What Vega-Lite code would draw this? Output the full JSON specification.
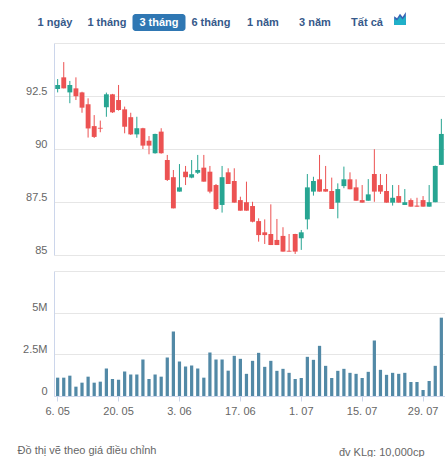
{
  "$schema": "https://vega.github.io/schema/vega-lite/v6.json",
  "background": "white",
  "padding": {"left": 17, "top": 12, "right": 0, "bottom": 0},
  "title": {
    "text": "Đồ thị vẽ theo giá điều chỉnh",
    "orient": "bottom",
    "anchor": "start",
    "fontSize": 11,
    "fontWeight": "normal",
    "color": "#666666",
    "offset": -12,
    "dx": -5
  },
  "datasets": {
    "buttons": [
      {"label": "1 ngày"},
      {"label": "1 tháng"},
      {"label": "3 tháng"},
      {"label": "6 tháng"},
      {"label": "1 năm"},
      {"label": "3 năm"},
      {"label": "Tất cả"}
    ],
    "prices": [
      {"date": "2024-05-06", "open": 92.83, "high": 93.30, "low": 92.67, "close": 93.02, "volume": 1100000},
      {"date": "2024-05-07", "open": 93.38, "high": 94.10, "low": 92.86, "close": 92.86, "volume": 1100000},
      {"date": "2024-05-08", "open": 92.67, "high": 93.21, "low": 92.16, "close": 93.02, "volume": 1220000},
      {"date": "2024-05-09", "open": 92.86, "high": 93.38, "low": 92.31, "close": 92.49, "volume": 560000},
      {"date": "2024-05-10", "open": 92.67, "high": 92.70, "low": 91.71, "close": 91.95, "volume": 800000},
      {"date": "2024-05-13", "open": 92.11, "high": 92.39, "low": 90.54, "close": 90.97, "volume": 1160000},
      {"date": "2024-05-14", "open": 91.08, "high": 91.60, "low": 90.52, "close": 90.57, "volume": 800000},
      {"date": "2024-05-15", "open": 91.00, "high": 91.34, "low": 90.79, "close": 90.96, "volume": 860000},
      {"date": "2024-05-16", "open": 91.97, "high": 92.66, "low": 91.52, "close": 92.58, "volume": 1650000},
      {"date": "2024-05-17", "open": 92.58, "high": 92.60, "low": 91.70, "close": 91.73, "volume": 1020000},
      {"date": "2024-05-20", "open": 92.31, "high": 93.02, "low": 91.81, "close": 91.84, "volume": 980000},
      {"date": "2024-05-21", "open": 91.87, "high": 92.00, "low": 90.74, "close": 91.05, "volume": 1470000},
      {"date": "2024-05-22", "open": 91.50, "high": 91.71, "low": 90.66, "close": 90.69, "volume": 1290000},
      {"date": "2024-05-23", "open": 90.69, "high": 91.52, "low": 90.53, "close": 90.98, "volume": 1290000},
      {"date": "2024-05-24", "open": 90.98, "high": 91.00, "low": 90.00, "close": 90.16, "volume": 2190000},
      {"date": "2024-05-27", "open": 90.39, "high": 90.61, "low": 89.75, "close": 90.16, "volume": 1020000},
      {"date": "2024-05-28", "open": 89.80, "high": 90.72, "low": 89.78, "close": 90.71, "volume": 1290000},
      {"date": "2024-05-29", "open": 90.82, "high": 90.98, "low": 89.78, "close": 89.80, "volume": 1160000},
      {"date": "2024-05-30", "open": 89.48, "high": 89.72, "low": 88.49, "close": 88.54, "volume": 2310000},
      {"date": "2024-05-31", "open": 88.67, "high": 89.01, "low": 87.20, "close": 87.20, "volume": 3870000},
      {"date": "2024-06-03", "open": 87.99, "high": 89.29, "low": 87.99, "close": 88.19, "volume": 2070000},
      {"date": "2024-06-04", "open": 88.93, "high": 89.20, "low": 88.30, "close": 88.67, "volume": 1770000},
      {"date": "2024-06-05", "open": 88.65, "high": 89.48, "low": 88.62, "close": 88.81, "volume": 1830000},
      {"date": "2024-06-06", "open": 88.88, "high": 89.72, "low": 88.82, "close": 89.01, "volume": 1650000},
      {"date": "2024-06-07", "open": 89.12, "high": 89.72, "low": 88.46, "close": 88.46, "volume": 1100000},
      {"date": "2024-06-10", "open": 88.93, "high": 89.20, "low": 87.91, "close": 87.99, "volume": 2610000},
      {"date": "2024-06-11", "open": 88.30, "high": 88.35, "low": 87.12, "close": 87.17, "volume": 2190000},
      {"date": "2024-06-12", "open": 87.36, "high": 89.20, "low": 87.00, "close": 88.67, "volume": 2190000},
      {"date": "2024-06-13", "open": 88.90, "high": 89.09, "low": 88.35, "close": 88.35, "volume": 1520000},
      {"date": "2024-06-14", "open": 88.49, "high": 89.09, "low": 87.47, "close": 87.47, "volume": 2410000},
      {"date": "2024-06-17", "open": 87.59, "high": 87.75, "low": 87.09, "close": 87.09, "volume": 2230000},
      {"date": "2024-06-18", "open": 87.49, "high": 88.46, "low": 87.09, "close": 87.09, "volume": 1330000},
      {"date": "2024-06-19", "open": 87.31, "high": 87.51, "low": 86.54, "close": 86.57, "volume": 2110000},
      {"date": "2024-06-20", "open": 86.60, "high": 86.73, "low": 85.63, "close": 85.94, "volume": 2590000},
      {"date": "2024-06-21", "open": 86.07, "high": 86.68, "low": 85.52, "close": 85.94, "volume": 1750000},
      {"date": "2024-06-24", "open": 85.99, "high": 87.39, "low": 85.47, "close": 85.47, "volume": 2110000},
      {"date": "2024-06-25", "open": 85.71, "high": 86.70, "low": 85.47, "close": 85.47, "volume": 1510000},
      {"date": "2024-06-26", "open": 85.90, "high": 86.31, "low": 85.16, "close": 85.16, "volume": 1630000},
      {"date": "2024-06-27", "open": 85.20, "high": 85.99, "low": 85.16, "close": 85.16, "volume": 1390000},
      {"date": "2024-06-28", "open": 85.99, "high": 86.00, "low": 85.05, "close": 85.16, "volume": 1020000},
      {"date": "2024-07-01", "open": 85.79, "high": 86.18, "low": 85.24, "close": 86.07, "volume": 1080000},
      {"date": "2024-07-02", "open": 86.68, "high": 88.82, "low": 86.21, "close": 88.19, "volume": 2350000},
      {"date": "2024-07-03", "open": 87.99, "high": 88.69, "low": 87.80, "close": 88.49, "volume": 2170000},
      {"date": "2024-07-04", "open": 88.57, "high": 89.72, "low": 87.99, "close": 87.99, "volume": 3010000},
      {"date": "2024-07-05", "open": 88.11, "high": 89.20, "low": 87.99, "close": 87.99, "volume": 1810000},
      {"date": "2024-07-08", "open": 88.02, "high": 88.65, "low": 87.17, "close": 87.17, "volume": 1080000},
      {"date": "2024-07-09", "open": 87.47, "high": 88.38, "low": 86.73, "close": 88.11, "volume": 1510000},
      {"date": "2024-07-10", "open": 88.25, "high": 89.17, "low": 88.15, "close": 88.57, "volume": 1630000},
      {"date": "2024-07-11", "open": 88.57, "high": 88.90, "low": 88.10, "close": 88.10, "volume": 1390000},
      {"date": "2024-07-12", "open": 88.19, "high": 88.57, "low": 87.56, "close": 87.56, "volume": 1330000},
      {"date": "2024-07-15", "open": 87.59, "high": 88.30, "low": 87.47, "close": 87.47, "volume": 1080000},
      {"date": "2024-07-16", "open": 87.56, "high": 88.58, "low": 87.56, "close": 87.86, "volume": 1450000},
      {"date": "2024-07-17", "open": 88.82, "high": 89.99, "low": 87.51, "close": 87.99, "volume": 3330000},
      {"date": "2024-07-18", "open": 88.30, "high": 88.82, "low": 87.88, "close": 87.99, "volume": 1570000},
      {"date": "2024-07-19", "open": 88.02, "high": 88.82, "low": 87.47, "close": 87.47, "volume": 1270000},
      {"date": "2024-07-22", "open": 87.47, "high": 88.30, "low": 87.33, "close": 87.70, "volume": 1390000},
      {"date": "2024-07-23", "open": 87.78, "high": 88.30, "low": 87.47, "close": 87.47, "volume": 1330000},
      {"date": "2024-07-24", "open": 87.36, "high": 88.11, "low": 87.36, "close": 87.49, "volume": 1390000},
      {"date": "2024-07-25", "open": 87.59, "high": 87.67, "low": 87.28, "close": 87.28, "volume": 840000},
      {"date": "2024-07-26", "open": 87.33, "high": 87.70, "low": 87.28, "close": 87.28, "volume": 840000},
      {"date": "2024-07-29", "open": 87.59, "high": 87.78, "low": 87.28, "close": 87.28, "volume": 360000},
      {"date": "2024-07-30", "open": 87.28, "high": 88.30, "low": 87.28, "close": 87.49, "volume": 900000},
      {"date": "2024-07-31", "open": 87.49, "high": 89.22, "low": 87.49, "close": 89.20, "volume": 1810000},
      {"date": "2024-08-01", "open": 89.25, "high": 91.42, "low": 89.25, "close": 90.71, "volume": 4700000}
    ]
  },
  "spacing": 12,
  "vconcat": [
    {
      "data": {"name": "buttons"},
      "width": 391,
      "height": 17,
      "encoding": {
        "x": {
          "field": "label",
          "type": "nominal",
          "scale": {
            "type": "point",
            "domain": ["1 ngày", "1 tháng", "3 tháng", "6 tháng", "1 năm", "3 năm", "Tất cả"],
            "range": [1, 313],
            "padding": 0
          },
          "axis": null
        }
      },
      "layer": [
        {
          "transform": [{"filter": "datum.label == '3 tháng'"}],
          "mark": {"type": "bar", "width": 53, "cornerRadius": 3, "color": "#2f77b3"}
        },
        {
          "mark": {"type": "text", "fontSize": 11, "fontWeight": "bold", "font": "Liberation Sans"},
          "encoding": {
            "text": {"field": "label"},
            "color": {
              "condition": {"test": "datum.label == '3 tháng'", "value": "#ffffff"},
              "value": "#36598a"
            }
          }
        },
        {
          "transform": [{"filter": "datum.label == 'Tất cả'"}],
          "mark": {
            "type": "point",
            "filled": true,
            "opacity": 1,
            "size": 169,
            "color": "#3765b5",
            "xOffset": 33,
            "yOffset": -4,
            "shape": "M-0.9,1 L-0.9,-0.35 L-0.45,-0.05 L0,-0.75 L0.4,-0.25 L0.9,-1 L0.9,1 Z"
          }
        },
        {
          "transform": [{"filter": "datum.label == 'Tất cả'"}],
          "mark": {
            "type": "point",
            "filled": true,
            "opacity": 1,
            "size": 169,
            "color": "#1fb1c9",
            "xOffset": 33,
            "yOffset": -4,
            "shape": "M-0.9,1 L-0.9,0.05 L-0.45,0.3 L0,-0.3 L0.4,0.15 L0.9,-0.45 L0.9,1 Z"
          }
        }
      ]
    },
    {
      "spacing": 16,
      "vconcat": [
        {
          "data": {"name": "prices"},
          "width": 391,
          "height": 212,
          "encoding": {
            "x": {
              "field": "date",
              "type": "ordinal",
              "sort": null,
              "scale": {"type": "band", "paddingInner": 0, "paddingOuter": 0.1},
              "axis": null
            },
            "color": {
              "condition": {"test": "datum.close >= datum.open", "value": "#27a592"},
              "value": "#ec5252"
            }
          },
          "layer": [
            {
              "mark": {"type": "rule", "strokeWidth": 1},
              "encoding": {
                "y": {
                  "field": "low",
                  "type": "quantitative",
                  "scale": {"domain": [85, 95], "zero": false, "nice": false},
                  "axis": {
                    "values": [85, 87.5, 90, 92.5, 95],
                    "labelExpr": "datum.value >= 95 ? '' : format(datum.value, '~g')",
                    "title": null,
                    "ticks": false,
                    "labelPadding": 7,
                    "labelBaseline": "alphabetic",
                    "labelOffset": -2,
                    "labelFlush": false
                  }
                },
                "y2": {"field": "high"}
              }
            },
            {
              "mark": {"type": "bar", "width": {"band": 0.8}},
              "encoding": {
                "y": {"field": "open", "type": "quantitative"},
                "y2": {"field": "close"}
              }
            }
          ]
        },
        {
          "data": {"name": "prices"},
          "width": 391,
          "height": 125,
          "mark": {"type": "bar", "width": {"band": 0.53}, "color": "#5289a6"},
          "encoding": {
            "x": {
              "field": "date",
              "type": "ordinal",
              "sort": null,
              "scale": {"type": "band", "paddingInner": 0, "paddingOuter": 0.1},
              "axis": {
                "values": ["2024-05-06", "2024-05-20", "2024-06-03", "2024-06-17", "2024-07-01", "2024-07-15", "2024-07-29"],
                "labelExpr": "utcFormat(toDate(datum.value), '%-d. %m')",
                "labelAngle": 0,
                "bandPosition": 0.5,
                "tickSize": 5,
                "labelPadding": 4,
                "grid": false,
                "title": "đv KLg: 10,000cp",
                "titleAnchor": "end",
                "titleAlign": "right",
                "titleX": 370,
                "titlePadding": 30,
                "titleFontSize": 11,
                "titleFontWeight": "normal",
                "titleColor": "#666666"
              }
            },
            "y": {
              "field": "volume",
              "type": "quantitative",
              "scale": {"domain": [0, 7500000], "nice": false},
              "axis": {
                "values": [0, 2500000, 5000000, 7500000],
                "labelExpr": "datum.value >= 7500000 ? '' : format(datum.value, '~s')",
                "title": null,
                "ticks": false,
                "labelPadding": 7,
                "labelBaseline": "alphabetic",
                "labelOffset": -2,
                "labelFlush": false
              }
            }
          }
        }
      ]
    }
  ],
  "config": {
    "font": "Liberation Sans",
    "view": {"stroke": null},
    "axis": {
      "labelFont": "Liberation Sans",
      "labelFontSize": 11,
      "labelColor": "#666666",
      "titleFont": "Liberation Sans",
      "gridColor": "#e6e6e6",
      "domainColor": "#ccd6eb",
      "tickColor": "#ccd6eb"
    },
    "title": {"font": "Liberation Sans"}
  }
}
